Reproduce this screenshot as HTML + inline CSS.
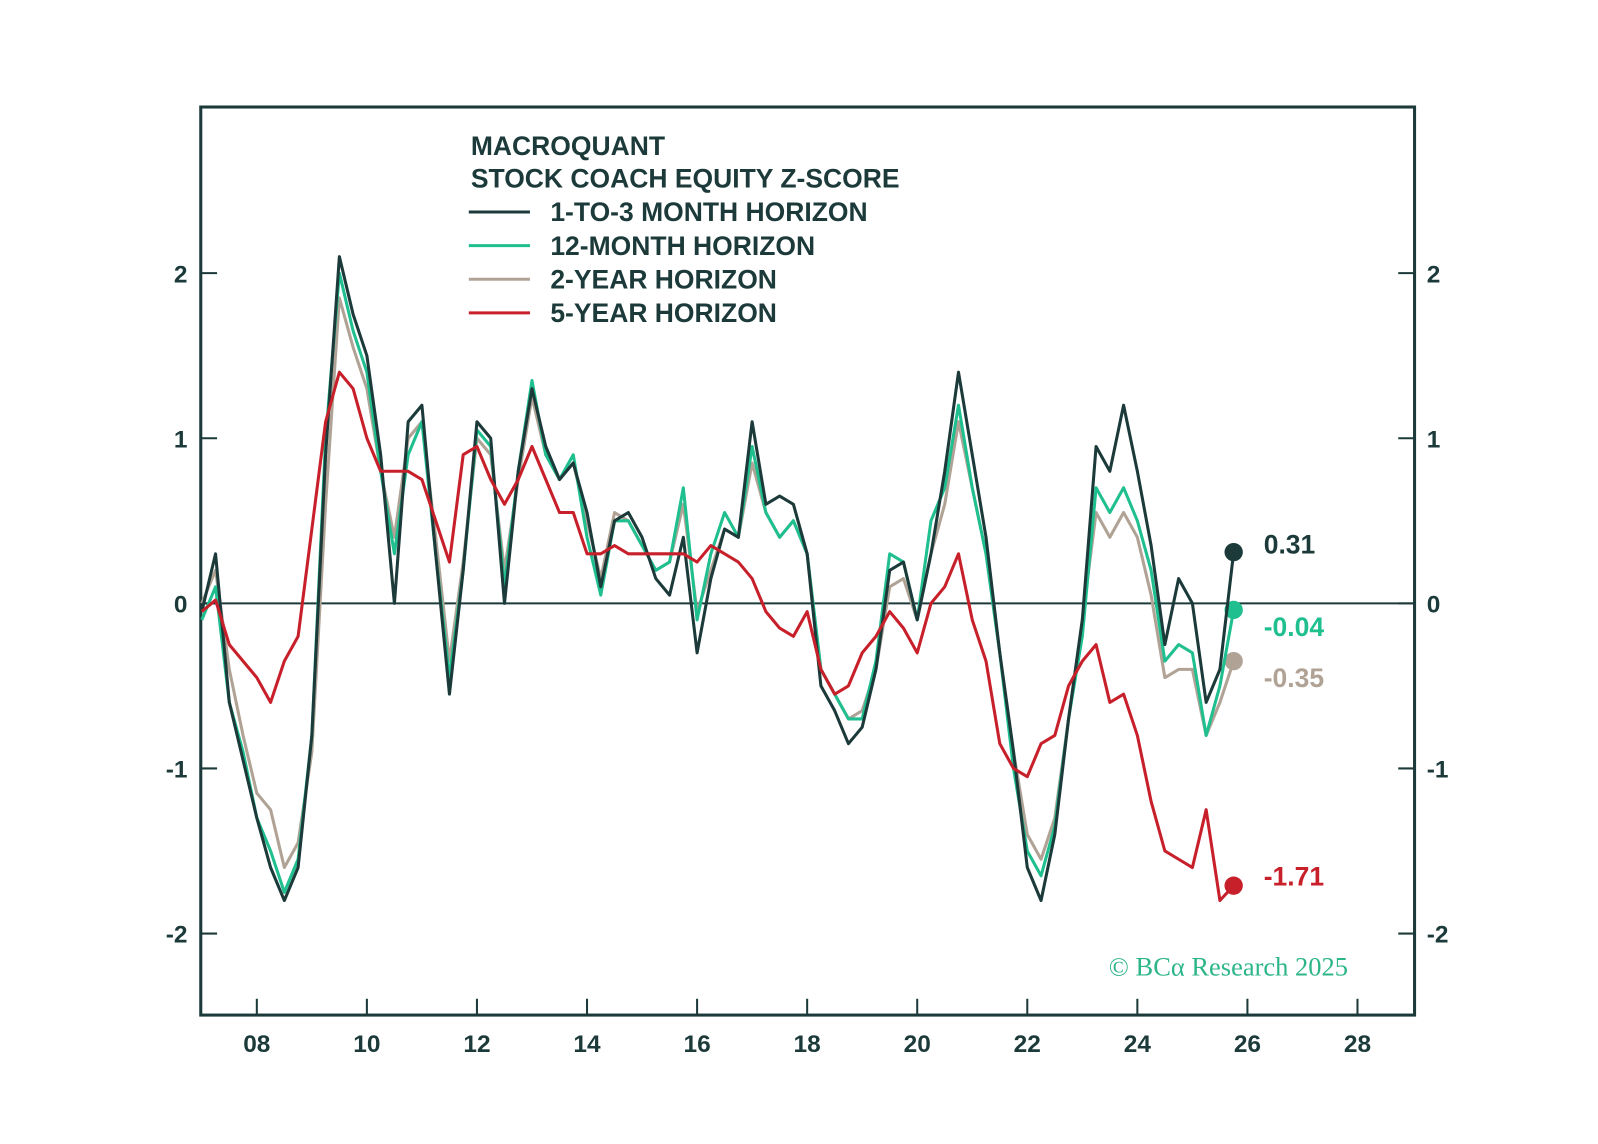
<!DOCTYPE html>
<html><head><meta charset="utf-8">
<style>
html,body{margin:0;padding:0;background:#fff;}
svg{display:block;font-family:"Liberation Sans",sans-serif;}
</style></head>
<body>
<svg id="chart" width="1598" height="1144" viewBox="0 0 1568 1122.5" preserveAspectRatio="none" xmlns="http://www.w3.org/2000/svg">
<rect width="1598" height="1144" fill="#fff"/>
<g id="axes"></g>
<g id="series"></g>
<g font-size="26" fill="#1c3a3a" font-weight="bold">
<text x="462" y="152">MACROQUANT</text>
<text x="462" y="184">STOCK COACH EQUITY Z-SCORE</text>
<line x1="460" y1="208" x2="520" y2="208" stroke="#1c3a3a" stroke-width="3"/>
<text x="540" y="217">1-TO-3 MONTH HORIZON</text>
<line x1="460" y1="241" x2="520" y2="241" stroke="#1fbf8f" stroke-width="3"/>
<text x="540" y="250">12-MONTH HORIZON</text>
<line x1="460" y1="274" x2="520" y2="274" stroke="#b0a396" stroke-width="3"/>
<text x="540" y="283">2-YEAR HORIZON</text>
<line x1="460" y1="307" x2="520" y2="307" stroke="#c8202a" stroke-width="3"/>
<text x="540" y="316">5-YEAR HORIZON</text>
</g>
<text x="1088" y="957" font-family="'Liberation Serif',serif" font-size="26" fill="#2db58a">© BCα Research 2025</text>
</svg>
<script>
const dates = [];
for (let i = 0; i < 76; i++) dates.push(2007 + i * 0.25);
const shortTerm = [-0.05,0.3,-0.6,-0.95,-1.3,-1.6,-1.8,-1.6,-0.8,0.9,2.1,1.75,1.5,0.9,0.0,1.1,1.2,0.3,-0.55,0.2,1.1,1.0,0.0,0.8,1.3,0.95,0.75,0.85,0.55,0.1,0.5,0.55,0.4,0.15,0.05,0.4,-0.3,0.15,0.45,0.4,1.1,0.6,0.65,0.6,0.3,-0.5,-0.65,-0.85,-0.75,-0.4,0.2,0.25,-0.1,0.3,0.8,1.4,0.9,0.4,-0.3,-0.9,-1.6,-1.8,-1.4,-0.7,-0.1,0.95,0.8,1.2,0.8,0.35,-0.25,0.15,0.0,-0.6,-0.4,0.31];
const twelveMonth = [-0.1,0.1,-0.6,-0.9,-1.3,-1.5,-1.75,-1.55,-0.8,1.0,2.0,1.65,1.4,0.8,0.3,0.9,1.1,0.3,-0.45,0.2,1.05,0.95,0.1,0.8,1.35,0.9,0.75,0.9,0.4,0.05,0.5,0.5,0.35,0.2,0.25,0.7,-0.1,0.3,0.55,0.4,0.95,0.55,0.4,0.5,0.3,-0.4,-0.55,-0.7,-0.7,-0.35,0.3,0.25,-0.1,0.5,0.7,1.2,0.7,0.3,-0.3,-1.0,-1.5,-1.65,-1.35,-0.7,-0.2,0.7,0.55,0.7,0.5,0.2,-0.35,-0.25,-0.3,-0.8,-0.5,-0.04];
const twoYear = [0.0,0.2,-0.4,-0.8,-1.15,-1.25,-1.6,-1.45,-0.9,0.6,1.85,1.55,1.3,0.8,0.4,1.0,1.1,0.4,-0.35,0.25,1.0,0.9,0.2,0.75,1.25,0.9,0.75,0.85,0.5,0.15,0.55,0.5,0.35,0.2,0.25,0.6,-0.05,0.2,0.45,0.4,0.85,0.55,0.4,0.5,0.3,-0.4,-0.55,-0.7,-0.65,-0.4,0.1,0.15,-0.1,0.3,0.6,1.1,0.7,0.3,-0.3,-0.9,-1.4,-1.55,-1.3,-0.7,-0.1,0.55,0.4,0.55,0.4,0.05,-0.45,-0.4,-0.4,-0.8,-0.6,-0.35];
const fiveYear = [-0.05,0.02,-0.25,-0.35,-0.45,-0.6,-0.35,-0.2,0.45,1.1,1.4,1.3,1.0,0.8,0.8,0.8,0.75,0.5,0.25,0.9,0.95,0.75,0.6,0.75,0.95,0.75,0.55,0.55,0.3,0.3,0.35,0.3,0.3,0.3,0.3,0.3,0.25,0.35,0.3,0.25,0.15,-0.05,-0.15,-0.2,-0.05,-0.4,-0.55,-0.5,-0.3,-0.2,-0.05,-0.15,-0.3,0.0,0.1,0.3,-0.1,-0.35,-0.85,-1.0,-1.05,-0.85,-0.8,-0.5,-0.35,-0.25,-0.6,-0.55,-0.8,-1.2,-1.5,-1.55,-1.6,-1.25,-1.8,-1.71];
const yTicks = [-2,-1,0,1,2];
const yTickLabels = ["-2","-1","0","1","2"];
const xTicks = [2008,2010,2012,2014,2016,2018,2020,2022,2024,2026,2028];
const xTickLabels = ["08","10","12","14","16","18","20","22","24","26","28"];

const NS = "http://www.w3.org/2000/svg";
const L = 197, R = 1388, T = 105, B = 996;
const X = t => 198 + (t - 2007) * 54;
const Y = v => 592 - v * 162;
function mk(tag, attrs, parent) {
  const e = document.createElementNS(NS, tag);
  for (const k in attrs) e.setAttribute(k, attrs[k]);
  parent.appendChild(e);
  return e;
}
const axes = document.getElementById('axes');
const ser = document.getElementById('series');
const dark = "#1c3a3a";

let frame = mk('rect', {x: L, y: T, width: R - L, height: B - T, fill: 'none', stroke: dark, 'stroke-width': 3}, axes);


let zl = mk('line', {x1: L, x2: R, y1: Y(0), y2: Y(0), stroke: dark, 'stroke-width': 2}, axes);



yTicks.forEach((v, i) => {
  const y = Y(v);
  mk('line', {x1: L, x2: L + 16, y1: y, y2: y, stroke: dark, 'stroke-width': 2}, axes);
  mk('line', {x1: R - 16, x2: R, y1: y, y2: y, stroke: dark, 'stroke-width': 2}, axes);
  const tl = mk('text', {x: 184, y: y + 9, 'text-anchor': 'end', 'font-size': 24, 'font-weight': 'bold', fill: dark}, axes);
  tl.textContent = yTickLabels[i];
  
  
  const tr = mk('text', {x: 1400, y: y + 9, 'text-anchor': 'start', 'font-size': 24, 'font-weight': 'bold', fill: dark}, axes);
  tr.textContent = yTickLabels[i];
  
  
});
xTicks.forEach((t, i) => {
  const x = X(t);
  mk('line', {x1: x, x2: x, y1: B - 16, y2: B, stroke: dark, 'stroke-width': 2}, axes);
  const tx = mk('text', {x: x, y: 1032, 'text-anchor': 'middle', 'font-size': 24, 'font-weight': 'bold', fill: dark}, axes);
  tx.textContent = xTickLabels[i];
  
  
});

const defs = [
  {vals: twoYear, color: "#b0a396", name: "2-year-horizon-line", lab: "-0.35", ly: 674},
  {vals: twelveMonth, color: "#1fbf8f", name: "12-month-horizon-line", lab: "-0.04", ly: 624},
  {vals: shortTerm, color: dark, name: "1-to-3-month-horizon-line", lab: "0.31", ly: 543},
  {vals: fiveYear, color: "#c8202a", name: "5-year-horizon-line", lab: "-1.71", ly: 869}
];
defs.forEach(d => {
  const pts = d.vals.map((v, i) => X(dates[i]).toFixed(1) + "," + Y(v).toFixed(1)).join(" ");
  const pl = mk('polyline', {points: pts, fill: 'none', stroke: d.color, 'stroke-width': 3, 'stroke-linejoin': 'round'}, ser);
  
  
  const n = d.vals.length - 1;
  const c = mk('circle', {cx: X(dates[n]), cy: Y(d.vals[n]), r: 9, fill: d.color}, ser);
  
  
  const t = mk('text', {x: 1240, y: d.ly, 'font-size': 26, 'font-weight': 'bold', fill: d.color}, ser);
  t.textContent = d.lab;
  
  
});
</script>
</body></html>
